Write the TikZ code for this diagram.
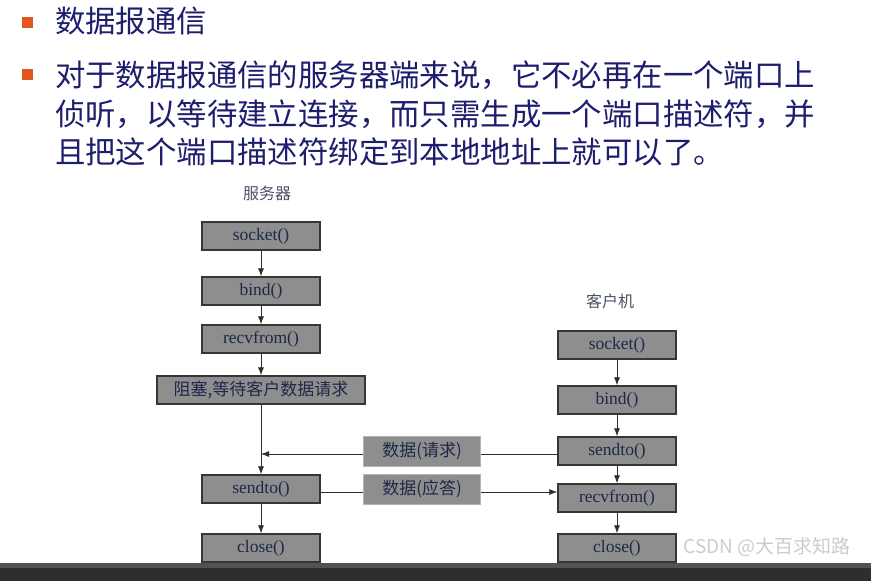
\documentclass[tikz,border=0pt]{standalone}
\usepackage{fontspec}
\setmainfont{Liberation Serif}
\newfontfamily\cjk{Noto Sans CJK SC}
\usetikzlibrary{arrows.meta, positioning, calc}

\definecolor{navy}{HTML}{1E1E6E}
\definecolor{bulletcol}{HTML}{E0561E}
\definecolor{boxfill}{HTML}{8E8E8E}
\definecolor{boxedge}{HTML}{363636}
\definecolor{msgedge}{HTML}{B4B4B4}
\definecolor{boxtext}{HTML}{1E2848}
\definecolor{linecol}{HTML}{2E2E2E}
\definecolor{headcol}{HTML}{4A5262}

\begin{document}
\begin{tikzpicture}[x=1pt, y=-1pt,
    every node/.style={inner sep=0pt},
    func/.style={draw=boxedge, fill=boxfill, line width=1.4pt, minimum width=118pt,
        minimum height=28pt, text=boxtext, font=\fontsize{17.5}{17.5}\selectfont},
    msg/.style={draw=msgedge, fill=boxfill, line width=0.6pt, minimum width=117pt,
        minimum height=30pt, text=boxtext, font=\cjk\fontsize{17}{17}\selectfont},
    flow/.style={-{Latex[length=8pt,width=6pt]}, line width=0.8pt, draw=linecol},
    para/.style={anchor=west, text=navy, font=\cjk\fontsize{30.4}{30.4}\selectfont}]

    \useasboundingbox (0,0) rectangle (871,581);
    \fill[white] (0,0) rectangle (871,581);

    % Title and text
    \fill[bulletcol] (22,17) rectangle (33,28);
    \node[para] (title) at (55,21) {数据报通信};
    \fill[bulletcol] (22,69) rectangle (33,80);
    \node[para] (line1) at (55,75) {对于数据报通信的服务器端来说，它不必再在一个端口上};
    \node[para] (line2) at (55,114) {侦听，以等待建立连接，而只需生成一个端口描述符，并};
    \node[para] (line3) at (55,152) {且把这个端口描述符绑定到本地地址上就可以了。};

    % Server
    \node[text=headcol, font=\cjk\fontsize{16}{16}\selectfont] (server) at (267,193) {服务器};
    \node[func] (sSocket) at (261,236) {socket()};
    \node[func] (sBind) at (261,291) {bind()};
    \node[func] (sRecv) at (261,339) {recvfrom()};
    \node[func, minimum width=208pt, font=\cjk\fontsize{17}{17}\selectfont] (sBlock) at (261,390) {阻塞,等待客户数据请求};
    \node[func] (sSend) at (261,489) {sendto()};
    \node[func] (sClose) at (261,548) {close()};

    % Client
    \node[text=headcol, font=\cjk\fontsize{16}{16}\selectfont] (client) at (610,301) {客户机};
    \node[func] (cSocket) at (617,345) {socket()};
    \node[func] (cBind) at (617,400) {bind()};
    \node[func] (cSend) at (617,451) {sendto()};
    \node[func] (cRecv) at (617,498) {recvfrom()};
    \node[func] (cClose) at (617,548) {close()};

    % Flow
    \draw[flow] (sSocket) -- (sBind);
    \draw[flow] (sBind) -- (sRecv);
    \draw[flow] (sRecv) -- (sBlock);
    \draw[flow] (sBlock) -- (sSend);
    \draw[flow] (sSend) -- (sClose);
    \draw[flow] (cSocket) -- (cBind);
    \draw[flow] (cBind) -- (cSend);
    \draw[flow] (cSend) -- (cRecv);
    \draw[flow] (cRecv) -- (cClose);

    % Messages
    \draw[flow] ($(cSend.west)+(0,3)$) -- (sBlock.south |- {$(cSend.west)+(0,3)$});
    \draw[flow] ($(sSend.east)+(0,3)$) -- (cRecv.west |- {$(sSend.east)+(0,3)$});
    \node[msg] (request) at (422,451) {数据(请求)};
    \node[msg] (answer) at (422,489) {数据(应答)};

    % Bottom bar
    \fill[black!68] (0,563) rectangle (871,568);
    \fill[black!82] (0,568) rectangle (871,581);
    \node[text=white!80!black, font=\cjk\fontsize{19}{19}\selectfont] (mark) at (767,547) {CSDN @大百求知路};

\end{tikzpicture}
\end{document}
